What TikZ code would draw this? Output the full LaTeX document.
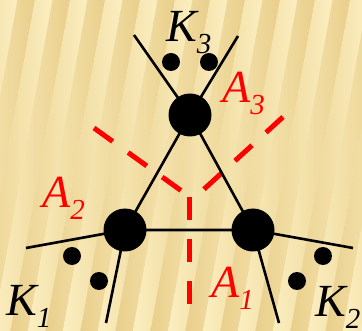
\documentclass[tikz,border=0pt]{standalone}
\usepackage{fontspec}
\setmainfont{Liberation Serif}
\definecolor{goldlt}{RGB}{251,238,192}
\definecolor{golddk}{RGB}{233,207,140}
\tikzset{
  bigdot/.style={circle,fill=black,inner sep=0pt,minimum size=43pt},
  smalldot/.style={circle,fill=black,inner sep=0pt,minimum size=18pt},
  leg/.style={line width=2.6pt},
  bisect/.style={red,line width=5pt,dash pattern=on 23pt off 19pt},
  lbl/.style={anchor=base west,inner sep=0pt,font=\fontsize{46}{46}\selectfont\itshape},
}
\newcommand{\lsub}[1]{\raisebox{-12pt}{\fontsize{29}{29}\selectfont #1}}
\begin{document}
\begin{tikzpicture}[x=1pt,y=-1pt]
  \useasboundingbox (0,0) rectangle (362,331);
  % Hintergrund
  \fill[goldlt] (0,0) rectangle (362,331);
  \begin{scope}
    \clip (0,0) rectangle (362,331);
    \begin{scope}[xslant=0.18]
      \foreach \s in {-4,...,11} {
        \shade[left color=golddk,right color=goldlt] (35*\s,0) rectangle (35*\s+17.5,331);
        \shade[left color=goldlt,right color=golddk] (35*\s+17.5,0) rectangle (35*\s+35,331);
      }
    \end{scope}
  \end{scope}
  % Ecken
  \coordinate (a3) at (190,115);
  \coordinate (a2) at (125,230);
  \coordinate (a1) at (253,230);
  % freie Enden
  \coordinate (e3l) at (134,35);
  \coordinate (e3r) at (238,36);
  \coordinate (e2l) at (26,248);
  \coordinate (e2d) at (106,323);
  \coordinate (e1r) at (353,248);
  \coordinate (e1d) at (279,323);
  % Mittelsenkrechten
  \coordinate (m1o) at (189,304);
  \coordinate (m1i) at (189,197);
  \coordinate (m2o) at (94,128);
  \coordinate (m2i) at (183,192);
  \coordinate (m3o) at (283,117);
  \coordinate (m3i) at (202,191);
  \draw[bisect] (m1o) -- (m1i);
  \draw[bisect] (m2o) -- (m2i);
  \draw[bisect] (m3o) -- (m3i);
  % Dreieck und Kanten
  \draw[leg] (a1) -- (a2) -- (a3) -- cycle;
  \draw[leg] (e3l) -- (a3) -- (e3r);
  \draw[leg] (e2l) -- (a2) -- (e2d);
  \draw[leg] (e1r) -- (a1) -- (e1d);
  \node[bigdot] (n3) at (a3) {};
  \node[bigdot] (n2) at (a2) {};
  \node[bigdot] (n1) at (a1) {};
  % Kegel
  \node[smalldot] (k3a) at (171,62) {};
  \node[smalldot] (k3b) at (209,62) {};
  \node[smalldot] (k1a) at (72,256) {};
  \node[smalldot] (k1b) at (99,281) {};
  \node[smalldot] (k2a) at (323,256) {};
  \node[smalldot] (k2b) at (297,281) {};
  % Beschriftung
  \node[lbl] (lk3) at (166,42) {K\lsub{3}};
  \node[lbl] (lk1) at (6,316) {K\lsub{1}};
  \node[lbl] (lk2) at (315,317) {K\lsub{2}};
  \node[lbl,red] (la3) at (222,103) {A\lsub{3}};
  \node[lbl,red] (la2) at (42,208) {A\lsub{2}};
  \node[lbl,red] (la1) at (211,298) {A\lsub{1}};
\end{tikzpicture}
\end{document}
